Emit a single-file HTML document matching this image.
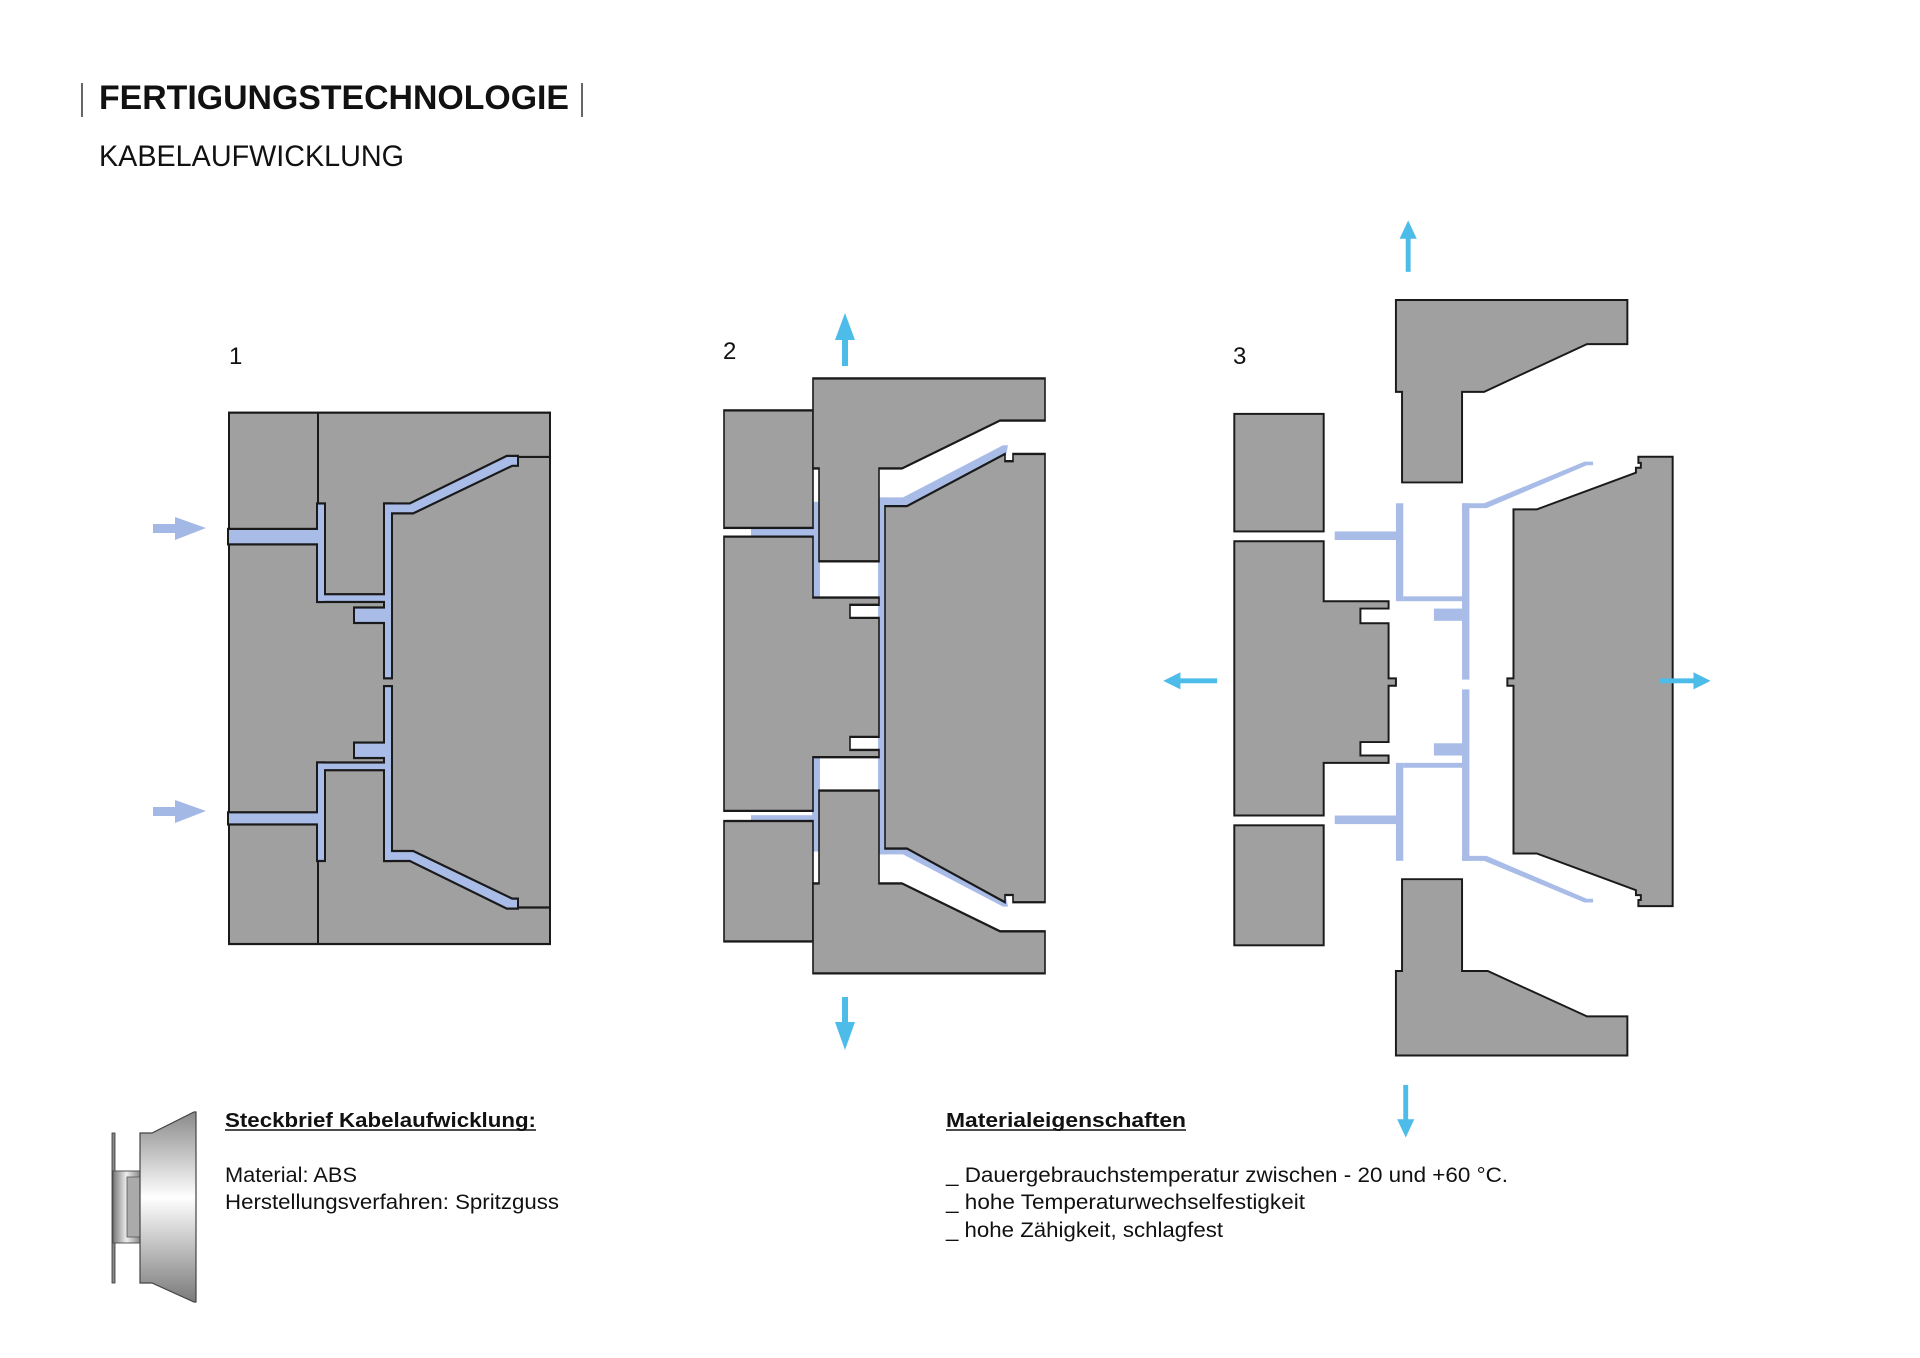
<!DOCTYPE html>
<html><head><meta charset="utf-8"><style>
html,body{margin:0;padding:0;background:#fff;}
svg{display:block;}
text{font-family:"Liberation Sans",sans-serif;fill:#111;}
</style></head><body>
<svg width="1920" height="1358" viewBox="0 0 1920 1358" xmlns="http://www.w3.org/2000/svg">
<defs>
<linearGradient id="cone" x1="0" y1="0" x2="0" y2="1">
<stop offset="0" stop-color="#8a8a8a"/><stop offset="0.45" stop-color="#ffffff"/><stop offset="1" stop-color="#7a7a7a"/>
</linearGradient>
<linearGradient id="hub" x1="0" y1="0" x2="1" y2="0">
<stop offset="0" stop-color="#777"/><stop offset="0.5" stop-color="#eee"/><stop offset="1" stop-color="#888"/>
</linearGradient>
</defs>

<!-- Title -->
<line x1="82" y1="83" x2="82" y2="117" stroke="#333" stroke-width="1.5"/>
<line x1="582" y1="83" x2="582" y2="117" stroke="#333" stroke-width="1.5"/>
<text x="99" y="109" font-size="34" font-weight="bold" textLength="470" lengthAdjust="spacingAndGlyphs">FERTIGUNGSTECHNOLOGIE</text>
<text x="99" y="166" font-size="30" textLength="305" lengthAdjust="spacingAndGlyphs">KABELAUFWICKLUNG</text>

<text x="229" y="364" font-size="24">1</text>
<text x="723" y="359" font-size="24">2</text>
<text x="1233" y="364" font-size="24">3</text>

<!-- ========== Diagram 1 ========== -->
<g transform="translate(0,-40.1) scale(1,1.107)">
<g stroke="#1a1a1a" stroke-width="2">
<rect x="229" y="409" width="321" height="480" fill="#a0a0a0"/>
<line x1="318" y1="409" x2="318" y2="579"/>
<line x1="318" y1="726" x2="318" y2="889"/>
<line x1="519" y1="449" x2="550" y2="449"/>
<line x1="519" y1="856" x2="550" y2="856"/>
</g>
<g stroke="#1a1a1a" stroke-width="4" fill="#1a1a1a">
<rect x="229" y="515" width="95" height="12"/>
<rect x="318" y="492" width="6" height="87"/>
<rect x="318" y="574" width="73" height="5"/>
<rect x="385" y="492" width="6" height="156"/>
<rect x="355" y="586" width="36" height="12"/>
<rect x="385" y="657" width="6" height="156"/>
<rect x="355" y="708" width="36" height="12"/>
<rect x="318" y="726" width="73" height="5"/>
<rect x="318" y="726" width="6" height="87"/>
<rect x="229" y="771" width="95" height="9"/>
<polygon points="385,492 410,492 507,449 517,449 517,456 512,456 413,499 385,499"/>
<polygon points="385,813 410,813 507,856 517,856 517,849 512,849 413,806 385,806"/>
</g>
<g fill="#a9bce8">
<rect x="229" y="515" width="95" height="12"/>
<rect x="318" y="492" width="6" height="87"/>
<rect x="318" y="574" width="73" height="5"/>
<rect x="385" y="492" width="6" height="156"/>
<rect x="355" y="586" width="36" height="12"/>
<rect x="385" y="657" width="6" height="156"/>
<rect x="355" y="708" width="36" height="12"/>
<rect x="318" y="726" width="73" height="5"/>
<rect x="318" y="726" width="6" height="87"/>
<rect x="229" y="771" width="95" height="9"/>
<polygon points="385,492 410,492 507,449 517,449 517,456 512,456 413,499 385,499"/>
<polygon points="385,813 410,813 507,856 517,856 517,849 512,849 413,806 385,806"/>
</g>
</g>
<!-- arrows d1 -->
<g fill="#a4b8e6">
<rect x="153" y="524" width="25" height="9"/><polygon points="175,517 206,528 175,540"/>
<rect x="153" y="807" width="25" height="9"/><polygon points="175,800 206,811 175,823"/>
</g>

<!-- ========== Diagram 2 ========== -->
<g transform="translate(0,-135.2) scale(1,1.451)">
<g fill="#a9bce8">
<rect x="751" y="456" width="64" height="8"/>
<rect x="751" y="655" width="64" height="8"/>
<rect x="812" y="439" width="8" height="68"/>
<rect x="812" y="612" width="8" height="68"/>
<rect x="878" y="436" width="8" height="246"/>
<polygon points="879,436 903,436 1003,400 1008,400 1006,407 907,443 879,443"/>
<polygon points="879,682 903,682 1003,718 1008,718 1006,711 907,675 879,675"/>
</g>
<g fill="#a0a0a0" stroke="#1a1a1a" stroke-width="1.6">
<rect x="724" y="376" width="89" height="81"/>
<rect x="724" y="659" width="89" height="83"/>
<polygon points="724,463 813,463 813,505 879,505 879,510 850,510 850,519 879,519 879,557 879,601 850,601 850,610 879,610 879,615 813,615 813,652 724,652"/>
<polygon points="813,354 1045,354 1045,383 1000,383 902,416 879,416 879,480 819,480 819,416 813,416"/>
<polygon points="813,764 1045,764 1045,735 1000,735 902,702 879,702 879,638 819,638 819,702 813,702"/>
<polygon points="885,442 907,442 1005,406 1005,411 1013,411 1013,406 1045,406 1045,715 1013,715 1013,710 1005,710 1005,715 907,678 885,678"/>
</g>
</g>
<!-- arrows d2 -->
<g fill="#4dbce9">
<rect x="842" y="338" width="6" height="28"/><polygon points="835,340 845,313 855,340"/>
<rect x="842" y="997" width="6" height="28"/><polygon points="835,1022 845,1050 855,1022"/>
</g>

<!-- ========== Diagram 3 (small coords) ========== -->
<g transform="scale(1.2245)">
<g fill="#a9bce8">
<rect x="1090" y="434" width="53" height="7"/>
<rect x="1140" y="411" width="6" height="80"/>
<rect x="1146" y="487" width="50" height="4"/>
<rect x="1194" y="411" width="6" height="144"/>
<rect x="1194" y="563" width="6" height="140"/>
<rect x="1171" y="497" width="24" height="10"/>
<rect x="1171" y="607" width="24" height="10"/>
<rect x="1146" y="623" width="50" height="4"/>
<rect x="1140" y="623" width="6" height="80"/>
<rect x="1090" y="666" width="53" height="7"/>
<polygon points="1194,411 1212,411 1294,377 1301,377 1301,380 1296,380 1214,415 1194,415"/>
<polygon points="1194,703 1212,703 1294,737 1301,737 1301,734 1296,734 1214,699 1194,699"/>
</g>
<g fill="#a0a0a0" stroke="#1a1a1a" stroke-width="1.6">
<rect x="1008" y="338" width="73" height="96"/>
<rect x="1008" y="674" width="73" height="98"/>
<polygon points="1008,442 1081,442 1081,491 1134,491 1134,497 1111,497 1111,509 1134,509 1134,554 1140,554 1140,560 1134,560 1134,606 1111,606 1111,617 1134,617 1134,623 1081,623 1081,666 1008,666"/>
<polygon points="1140,245 1329,245 1329,281 1296,281 1212,320 1194,320 1194,394 1145,394 1145,320 1140,320"/>
<polygon points="1145,718 1194,718 1194,793 1215,793 1296,830 1329,830 1329,862 1140,862 1140,793 1145,793"/>
<polygon points="1236,416 1255,416 1336,386 1336,382 1340,382 1340,378 1338,378 1338,373 1366,373 1366,740 1338,740 1338,735 1340,735 1340,731 1336,731 1336,727 1255,697 1236,697 1236,560 1231,560 1231,554 1236,554"/>
</g>
<g fill="#4dbce9">
<rect x="1148" y="192" width="4" height="30"/><polygon points="1143,195 1150,180 1157,195"/>
<rect x="1146" y="886" width="4" height="30"/><polygon points="1141,914 1148,929 1155,914"/>
<rect x="962" y="554" width="32" height="4"/><polygon points="964,549 950,556 964,563"/>
<rect x="1355" y="554" width="30" height="4"/><polygon points="1383,549 1397,556 1383,563"/>
</g>
</g>

<!-- ========== Bottom ========== -->
<rect x="112" y="1133" width="3" height="150" fill="#888" stroke="#333" stroke-width="0.8"/>
<rect x="113" y="1171" width="27" height="72" fill="url(#hub)" stroke="#555" stroke-width="1"/>
<rect x="127" y="1177" width="13" height="60" fill="#aaa" stroke="#555" stroke-width="0.8"/>
<polygon points="140,1133 152,1133 194,1112 196,1112 196,1302 194,1302 152,1283 140,1283" fill="url(#cone)" stroke="#444" stroke-width="1.2"/>

<text x="225" y="1127" font-size="20" font-weight="bold" textLength="311" lengthAdjust="spacingAndGlyphs">Steckbrief Kabelaufwicklung:</text>
<line x1="225" y1="1130" x2="536" y2="1130" stroke="#111" stroke-width="1.5"/>
<text x="225" y="1182" font-size="21" textLength="132" lengthAdjust="spacingAndGlyphs">Material: ABS</text>
<text x="225" y="1209" font-size="21" textLength="334" lengthAdjust="spacingAndGlyphs">Herstellungsverfahren: Spritzguss</text>

<text x="946" y="1127" font-size="20" font-weight="bold" textLength="240" lengthAdjust="spacingAndGlyphs">Materialeigenschaften</text>
<line x1="946" y1="1130" x2="1186" y2="1130" stroke="#111" stroke-width="1.5"/>
<text x="946" y="1182" font-size="21" textLength="562" lengthAdjust="spacingAndGlyphs">_ Dauergebrauchstemperatur zwischen - 20 und +60 °C.</text>
<text x="946" y="1209" font-size="21" textLength="359" lengthAdjust="spacingAndGlyphs">_ hohe Temperaturwechselfestigkeit</text>
<text x="946" y="1237" font-size="21" textLength="277" lengthAdjust="spacingAndGlyphs">_ hohe Zähigkeit, schlagfest</text>
</svg>
</body></html>
